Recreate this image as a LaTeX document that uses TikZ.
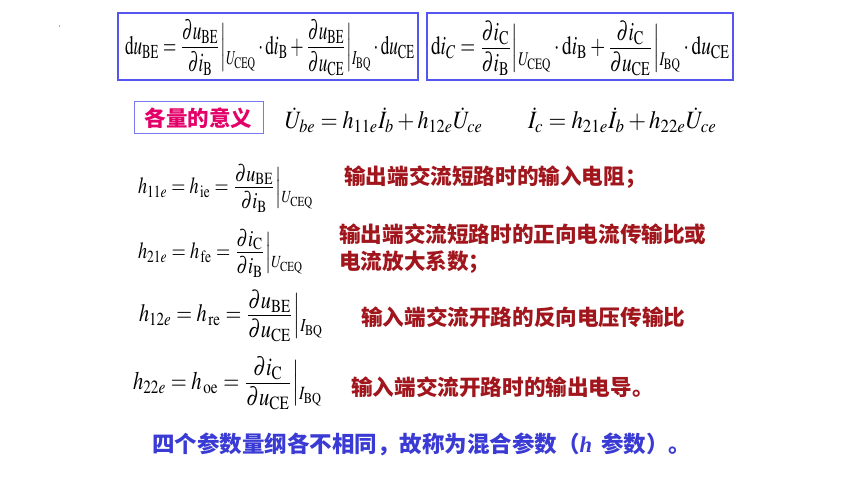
\documentclass[tikz,border=0pt]{standalone}
\usepackage{mathptmx}
\usepackage{fontspec}
\setmainfont{Liberation Serif}
\newfontfamily\cjk{Noto Sans CJK SC}
\newfontfamily\tms{Liberation Serif}
\usepackage{graphicx}
\definecolor{framecol}{RGB}{85,85,240}
\definecolor{labelframe}{RGB}{120,120,240}
\definecolor{pinktxt}{RGB}{228,0,105}
\definecolor{redtxt}{RGB}{160,22,28}
\definecolor{bluetxt}{RGB}{58,58,212}
\newcommand{\rmsub}[1]{\mathrm{#1}}
\newcommand{\evalbar}[1]{\Bigr|\raisebox{-4pt}{$\scriptstyle #1$}}
\newcommand{\cfr}[2]{{\textstyle\frac{\displaystyle #1\rule[-2.3pt]{0pt}{0pt}}{\displaystyle\rule{0pt}{8.4pt}#2}}}
\begin{document}
\begin{tikzpicture}[x=1pt,y=-1pt,
  framebox/.style={draw=framecol,line width=1.1pt},
  eqnode/.style={anchor=north west,inner sep=0pt,outer sep=0pt},
  redline/.style={anchor=west,inner sep=0pt,text=redtxt,font=\cjk\bfseries\fontsize{21.6}{26}\selectfont},
  blueline/.style={anchor=west,inner sep=0pt,text=bluetxt,font=\cjk\bfseries\fontsize{22.5}{27}\selectfont},
  labelbox/.style={draw=labelframe,line width=1pt,minimum width=129pt,minimum height=32pt,inner sep=0pt,text=pinktxt,font=\cjk\bfseries\fontsize{21.5}{26}\selectfont}]
\useasboundingbox[fill=white] (0,0) rectangle (860,484);
% stray mark
\fill[gray!70] (59,25) rectangle (60.2,27.5);
% top boxes
\draw[framebox] (118,13) rectangle (418,80);
\draw[framebox] (427,13) rectangle (733,80);
\node[eqnode] (eqA) at (125,20) {\resizebox*{290pt}{56pt}{$
  \mathrm{d}u_{\rmsub{BE}}=\cfr{\partial u_{\rmsub{BE}}}{\partial i_{\rmsub{B}}}\evalbar{U_{\rmsub{CEQ}}}\cdot\mathrm{d}i_{\rmsub{B}}
  +\cfr{\partial u_{\rmsub{BE}}}{\partial u_{\rmsub{CE}}}\evalbar{I_{\rmsub{BQ}}}\cdot\mathrm{d}u_{\rmsub{CE}}$}};
\node[eqnode] (eqB) at (431,21) {\resizebox*{299pt}{55pt}{$
  \mathrm{d}i_{C}=\cfr{\partial i_{\rmsub{C}}}{\partial i_{\rmsub{B}}}\evalbar{U_{\rmsub{CEQ}}}\cdot\mathrm{d}i_{\rmsub{B}}
  +\cfr{\partial i_{\rmsub{C}}}{\partial u_{\rmsub{CE}}}\evalbar{I_{\rmsub{BQ}}}\cdot\mathrm{d}u_{\rmsub{CE}}$}};
% label and h-equations
\node[labelbox] (lab) at (198.5,118) {各量的意义};
\node[eqnode] (eqU) at (285,108) {\resizebox*{198pt}{25pt}{$\dot{U}_{be}=h_{11e}\dot{I}_{b}+h_{12e}\dot{U}_{ce}$}};
\node[eqnode] (eqI) at (528,108) {\resizebox*{189pt}{25pt}{$\dot{I}_{c}=h_{21e}\dot{I}_{b}+h_{22e}\dot{U}_{ce}$}};
% parameter rows
\node[eqnode] (hA) at (138,164) {\resizebox*{175pt}{48pt}{$h_{11e}=h_{\,\rmsub{ie}}=\cfr{\partial u_{\rmsub{BE}}}{\partial i_{\rmsub{B}}}\evalbar{U_{\rmsub{CEQ}}}$}};
\node[eqnode] (hB) at (138,229) {\resizebox*{165pt}{48pt}{$h_{21e}=h_{\,\rmsub{fe}}=\cfr{\partial i_{\rmsub{C}}}{\partial i_{\rmsub{B}}}\evalbar{U_{\rmsub{CEQ}}}$}};
\node[eqnode] (hC) at (139,290) {\resizebox*{184pt}{52pt}{$h_{12e}=h_{\,\rmsub{re}}=\cfr{\partial u_{\rmsub{BE}}}{\partial u_{\rmsub{CE}}}\evalbar{I_{\rmsub{BQ}}}$}};
\node[eqnode] (hD) at (133,357) {\resizebox*{189pt}{53pt}{$h_{22e}=h_{\,\rmsub{oe}}=\cfr{\partial i_{\rmsub{C}}}{\partial u_{\rmsub{CE}}}\evalbar{I_{\rmsub{BQ}}}$}};
% explanations
\node[redline] (tA) at (344,177) {输出端交流短路时的输入电阻；};
\node[redline] (tB) at (339,234) {输出端交流短路时的正向电流传输比或};
\node[redline] (tB2) at (339,262) {电流放大系数；};
\node[redline] (tC) at (361,317) {输入端交流开路的反向电压传输比};
\node[redline] (tD) at (351,387) {输入端交流开路时的输出电导。};
\node[blueline] (tE) at (152,444) {四个参数量纲各不相同，故称为混合参数（{\tms\bfseries\itshape h}\, 参数）。};
\end{tikzpicture}
\end{document}
